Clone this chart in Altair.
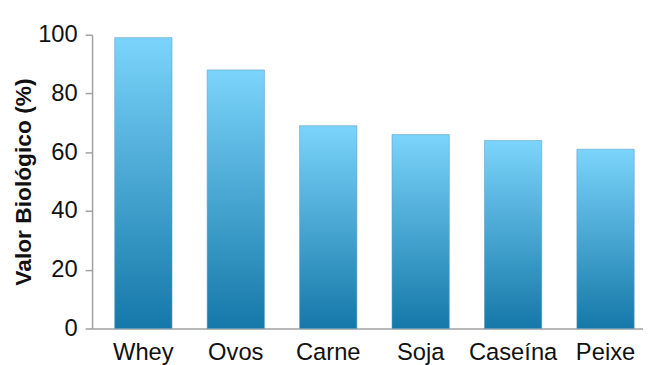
import altair as alt
import pandas as pd

categories = ["Whey", "Ovos", "Carne", "Soja", "Caseína", "Peixe"]
values = [99, 88, 69, 66, 64, 61]
y_ticks = [0, 20, 40, 60, 80, 100]

df = pd.DataFrame({"cat": categories, "val": values})

gradient = alt.Gradient(
    gradient="linear",
    x1=0, y1=1, x2=0, y2=0,
    stops=[alt.GradientStop(color="#1578a8", offset=0),
           alt.GradientStop(color="#7bd4fb", offset=1)],
)

chart = alt.Chart(df).mark_bar(
    color=gradient, stroke="#5d9cc0", strokeWidth=0.8, strokeOpacity=0.7
).encode(
    x=alt.X("cat:N", sort=categories, title=None,
            scale=alt.Scale(paddingInner=0.38, paddingOuter=0.17, align=0.72),
            axis=alt.Axis(labelAngle=0, ticks=False, labelFontSize=24,
                          labelFont="Liberation Sans", labelColor="#111111",
                          labelPadding=12, domainColor="#a0a0a0", domainWidth=1.5)),
    y=alt.Y("val:Q", title="Valor Biológico (%)",
            scale=alt.Scale(domain=[0, 100], nice=False),
            axis=alt.Axis(values=y_ticks, grid=False, labelFontSize=24,
                          labelFont="Liberation Sans", labelColor="#111111",
                          tickSize=7, tickColor="#a0a0a0", domainColor="#a0a0a0",
                          domainWidth=1.5, tickWidth=1.5, labelPadding=8,
                          titleFontSize=23, titleFont="Liberation Sans",
                          titleFontWeight="bold", titleColor="#111111",
                          titlePadding=2)),
).properties(
    width=557, height=297,
    autosize=alt.AutoSizeParams(type="none"),
    padding={"left": 85, "top": 25, "right": 0, "bottom": 40},
).configure_view(stroke=None)

chart.save("out.html", embed_options={"renderer": "svg", "actions": False})
